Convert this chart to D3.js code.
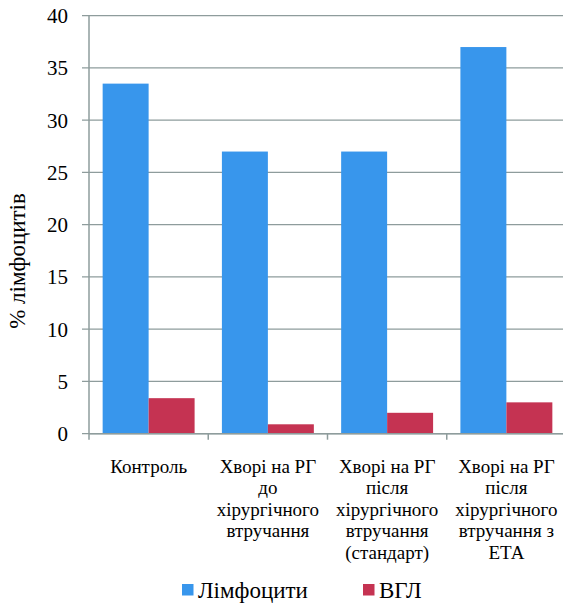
<!DOCTYPE html>
<html>
<head>
<meta charset="utf-8">
<script src="https://cdn.jsdelivr.net/npm/d3@7"></script>
<style>
  html, body { margin: 0; padding: 0; background: #fff; }
  svg { display: block; }
</style>
</head>
<body>
<svg id="chart" width="563" height="605"></svg>
<script>
// Lymphocyte share by patient group
const categories = [
  ["Контроль"],
  ["Хворі на РГ", "до", "хірургічного", "втручання"],
  ["Хворі на РГ", "після", "хірургічного", "втручання", "(стандарт)"],
  ["Хворі на РГ", "після", "хірургічного", "втручання з", "ЕТА"]
];
const seriesNames = ["Лімфоцити", "ВГЛ"];
const lymphocytes = [33.5, 27, 27, 37];
const vgl = [3.4, 0.9, 2, 3];
const yTicks = [0, 5, 10, 15, 20, 25, 30, 35, 40];
const yTitle = "% лімфоцитів";
const colors = ["#3896EC", "#C53352"];

const serif = "'Liberation Serif', Tinos, 'Times New Roman', Times, 'Noto Serif', 'DejaVu Serif', serif";
const svg = d3.select("#chart")
  .style("font-family", serif);
const gridColor = "#8E9C9C";

const plot = { left: 89, right: 566, top: 15.7, bottom: 433.7 };

const keys = categories.map((c, i) => i);
const x = d3.scaleBand().domain(keys).range([plot.left, plot.right]).padding(0);
const xs = d3.scaleBand().domain(seriesNames).range([0, x.bandwidth()]).paddingInner(0).paddingOuter(0.297);
const y = d3.scaleLinear().domain([0, 40]).range([plot.bottom, plot.top]);

const rows = keys.map(i => ({ i, values: [lymphocytes[i], vgl[i]] }));

// horizontal gridlines with small ticks left of the axis
svg.append("g").selectAll("line").data(yTicks).join("line")
  .attr("x1", plot.left - 7).attr("x2", plot.right)
  .attr("y1", d => y(d)).attr("y2", d => y(d))
  .attr("stroke", gridColor).attr("stroke-width", 1.3);

// y tick labels
svg.append("g").selectAll("text").data(yTicks).join("text")
  .attr("x", 68).attr("y", d => y(d))
  .attr("dy", "0.35em")
  .attr("text-anchor", "end")
  .attr("font-family", serif)
  .attr("font-size", 21)
  .text(d => d);

// bars
const groups = svg.append("g").selectAll("g").data(rows).join("g")
  .attr("transform", d => `translate(${x(d.i)},0)`);
groups.selectAll("rect").data(d => d.values.map((v, k) => ({ v, k })))
  .join("rect")
  .attr("x", d => xs(seriesNames[d.k]))
  .attr("width", xs.bandwidth())
  .attr("y", d => y(d.v))
  .attr("height", d => y(0) - y(d.v))
  .attr("fill", d => colors[d.k]);

// axis lines
svg.append("line")
  .attr("x1", plot.left).attr("x2", plot.left)
  .attr("y1", plot.top).attr("y2", plot.bottom)
  .attr("stroke", gridColor).attr("stroke-width", 1.5);
svg.append("line")
  .attr("x1", plot.left).attr("x2", plot.right)
  .attr("y1", plot.bottom).attr("y2", plot.bottom)
  .attr("stroke", gridColor).attr("stroke-width", 1.5);

// category boundary ticks
const bounds = keys.map(i => x(i)).concat([plot.right]);
svg.append("g").selectAll("line").data(bounds).join("line")
  .attr("x1", d => d).attr("x2", d => d)
  .attr("y1", plot.bottom).attr("y2", plot.bottom + 6)
  .attr("stroke", gridColor).attr("stroke-width", 1.5);

// category labels
const labels = svg.append("g").selectAll("text").data(rows).join("text")
  .attr("text-anchor", "middle")
  .attr("font-family", serif)
  .attr("font-size", 19)
  .attr("transform", d => `translate(${x(d.i) + x.bandwidth() / 2},473)`);
labels.selectAll("tspan").data(d => categories[d.i]).join("tspan")
  .attr("x", 0)
  .attr("y", (d, j) => j * 21.4)
  .text(d => d);

// y-axis title
svg.append("text")
  .attr("transform", `translate(25,261) rotate(-90)`)
  .attr("text-anchor", "middle")
  .attr("font-family", serif)
  .attr("font-size", 23)
  .text(yTitle);

// legend
const legendX = [182, 363];
const legend = svg.append("g").selectAll("g").data(seriesNames).join("g")
  .attr("transform", (d, k) => `translate(${legendX[k]},584)`);
legend.append("rect")
  .attr("width", 11.5).attr("height", 11.5)
  .attr("fill", (d, k) => colors[k]);
legend.append("text")
  .attr("x", 16).attr("y", 14.3)
  .attr("font-family", serif)
  .attr("font-size", 23)
  .text(d => d);
</script>
</body>
</html>
